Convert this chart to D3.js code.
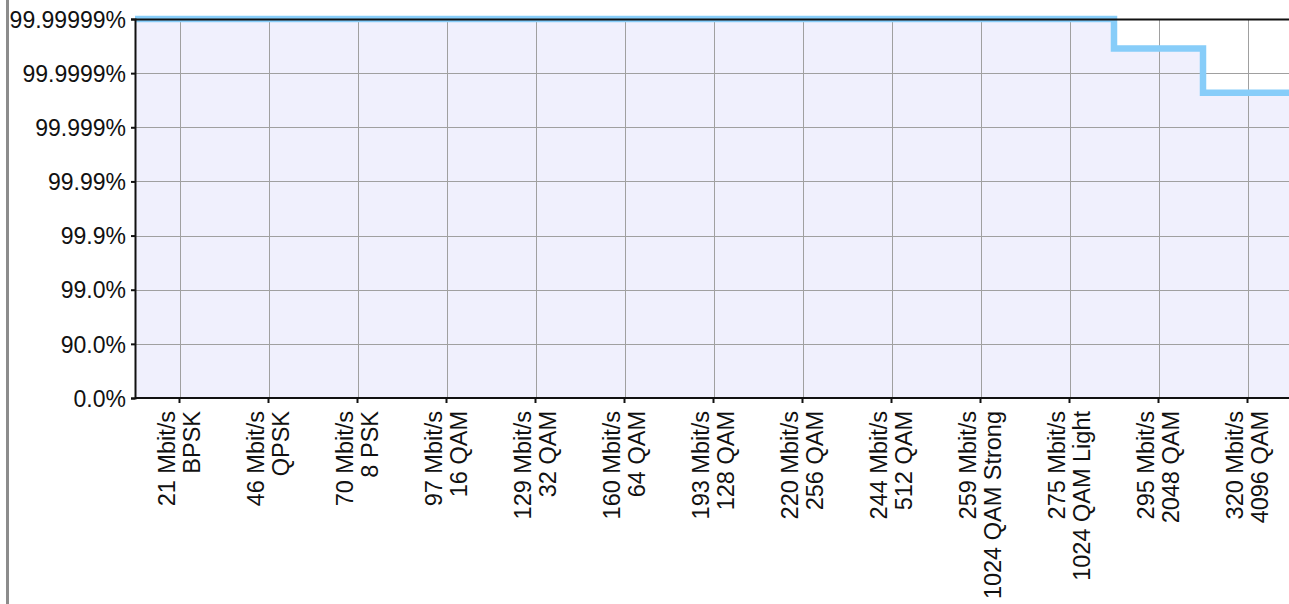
<!DOCTYPE html>
<html><head><meta charset="utf-8">
<script src="https://cdn.jsdelivr.net/npm/d3@7"></script>
<style>
html,body{margin:0;padding:0;background:#fff;}
svg{display:block;font-family:"Liberation Sans",Arial,sans-serif;}
</style></head>
<body><svg id="chart" width="1289" height="604"></svg>
<script>
// Data
const rates = ["21 Mbit/s","46 Mbit/s","70 Mbit/s","97 Mbit/s","129 Mbit/s","160 Mbit/s","193 Mbit/s","220 Mbit/s","244 Mbit/s","259 Mbit/s","275 Mbit/s","295 Mbit/s","320 Mbit/s"];
const modulations = ["BPSK","QPSK","8 PSK","16 QAM","32 QAM","64 QAM","128 QAM","256 QAM","512 QAM","1024 QAM Strong","1024 QAM Light","2048 QAM","4096 QAM"];
// availability in percent
const availability = [99.99999,99.99999,99.99999,99.99999,99.99999,99.99999,99.99999,99.99999,99.99999,99.99999,99.99999,99.999965,99.99977];
const yTickValues = [0,90,99,99.9,99.99,99.999,99.9999,99.99999];
const yTickLabels = ["0.0%","90.0%","99.0%","99.9%","99.99%","99.999%","99.9999%","99.99999%"];

const nines = p => p <= 0 ? 0 : -Math.log10(1 - p/100);

(function(){
const svg = d3.select("#chart");
const mL = 135, mT = 19, mB = 398, mR = 135 + 13*89;
const cats = rates.map((r,i)=>i);
const x = d3.scaleBand().domain(cats).range([mL,mR]).padding(0);
const y = d3.scaleLinear().domain([0,7]).range([mB,mT]);
const bw = x.bandwidth();

// left gray frame line
svg.append("rect").attr("x",6).attr("y",0).attr("width",3).attr("height",604).attr("fill","#8c8c8c");

// plot background
svg.append("rect").attr("x",mL).attr("y",mT).attr("width",mR-mL).attr("height",mB-mT).attr("fill","#fff");

// step points
const pts = [];
cats.forEach(i=>{
  const v = nines(availability[i]);
  pts.push([x(i), v]);
  pts.push([x(i)+bw, v]);
});
const area = d3.area().x(d=>d[0]).y0(y(0)).y1(d=>y(d[1]));
svg.append("path").datum(pts).attr("d",area).attr("fill","#f0f0fd");

// gridlines
const g = svg.append("g");
g.selectAll("line.h").data(yTickValues).join("line")
  .attr("x1",mL).attr("x2",mR)
  .attr("y1",d=>Math.round(y(nines(d)))+0.5).attr("y2",d=>Math.round(y(nines(d)))+0.5)
  .attr("stroke","#a0a0a0").attr("stroke-width",1);
g.selectAll("line.v").data(cats).join("line")
  .attr("x1",d=>Math.round(x(d)+bw/2)+0.5).attr("x2",d=>Math.round(x(d)+bw/2)+0.5)
  .attr("y1",mT).attr("y2",mB)
  .attr("stroke","#a0a0a0").attr("stroke-width",1);

// step line
const line = d3.line().x(d=>d[0]).y(d=>y(d[1]));
svg.append("path").datum(pts).attr("d",line).attr("fill","none")
  .attr("stroke","#87cdf9").attr("stroke-width",6.5).attr("stroke-linejoin","miter");

// top frame line
svg.append("line").attr("x1",mL).attr("x2",1289).attr("y1",mT+0.5).attr("y2",mT+0.5).attr("stroke","#111").attr("stroke-width",2);

// Y axis
const yAxis = d3.axisLeft(y).tickValues(yTickValues.map(nines)).tickSize(4).tickPadding(5)
  .tickFormat((d,i)=>yTickLabels[i]);
const ya = svg.append("g").attr("transform",`translate(${mL},0)`).call(yAxis);
ya.select(".domain").attr("stroke","#111").attr("stroke-width",2);
ya.selectAll(".tick line").attr("stroke","#111").attr("stroke-width",2);
ya.selectAll(".tick text").attr("font-size",23).attr("fill","#111").attr("font-family","'Liberation Sans',Arial,sans-serif").attr("dy","0.36em");

// X axis
const xAxis = d3.axisBottom(x).tickSize(5).tickFormat(()=>"");
const xa = svg.append("g").attr("transform",`translate(0,${mB})`).call(xAxis);
xa.select(".domain").attr("stroke","#111").attr("stroke-width",2).attr("d",`M${mL},0H${mR}`);
xa.selectAll(".tick line").attr("stroke","#111").attr("stroke-width",2);

// X labels (two lines, rotated)
const lbl = svg.append("g").selectAll("text").data(cats).join("text")
  .attr("transform",d=>`translate(${x(d)+bw/2},411) rotate(-90)`)
  .attr("text-anchor","end").attr("font-size",23.5).attr("fill","#111");
lbl.append("tspan").attr("x",0).attr("y",-4.5).text(d=>rates[d]);
lbl.append("tspan").attr("x",0).attr("y",20.5).text(d=>modulations[d]);
})();
</script></body></html>
